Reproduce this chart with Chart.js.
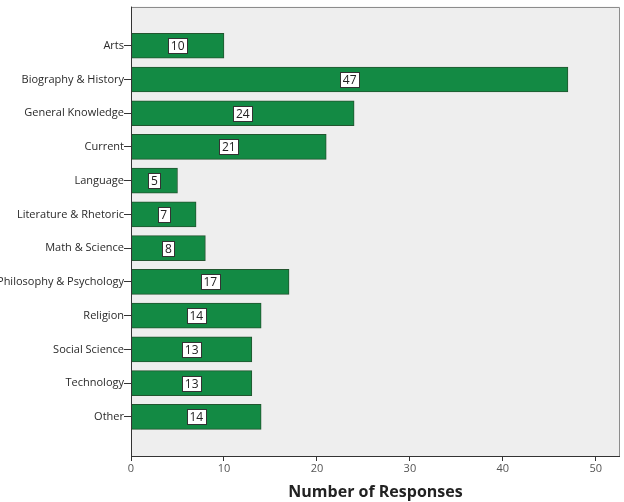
<!DOCTYPE html>
<html>
<head>
<meta charset="utf-8">
<script src="https://cdn.jsdelivr.net/npm/chart.js@4"></script>
<style>
  html, body { margin: 0; padding: 0; background: #ffffff; }
  #wrap { width: 624px; height: 502px; }
</style>
</head>
<body>
<div id="wrap"><canvas id="responsesChart" width="624" height="502"></canvas></div>
<script>
const categories = ['Arts', 'Biography & History', 'General Knowledge', 'Current', 'Language',
  'Literature & Rhetoric', 'Math & Science', 'Philosophy & Psychology', 'Religion',
  'Social Science', 'Technology', 'Other'];
const responses = [10, 47, 24, 21, 5, 7, 8, 17, 14, 13, 13, 14];
const xTicks = [0, 10, 20, 30, 40, 50];

const fontFamily = '"Open Sans", "Liberation Sans", sans-serif';

// gray plot frame behind the bars
const plotFrame = {
  id: 'plotFrame',
  beforeDraw(chart) {
    const { ctx, chartArea: a } = chart;
    ctx.save();
    ctx.fillStyle = '#eeeeee';
    ctx.fillRect(a.left, a.top, a.right - a.left, a.bottom - a.top);
    ctx.restore();
  },
  afterDraw(chart) {
    const { ctx, chartArea: a } = chart;
    ctx.save();
    ctx.lineWidth = 1;
    ctx.strokeStyle = '#8c8c8c';
    ctx.beginPath();
    ctx.moveTo(a.left, Math.round(a.top) + 0.5);
    ctx.lineTo(Math.round(a.right) - 0.5, Math.round(a.top) + 0.5);
    ctx.lineTo(Math.round(a.right) - 0.5, Math.round(a.bottom));
    ctx.stroke();
    ctx.beginPath();
    ctx.strokeStyle = '#333333';
    ctx.moveTo(Math.round(a.left) + 0.5, a.top);
    ctx.lineTo(Math.round(a.left) + 0.5, Math.round(a.bottom) + 0.5);
    ctx.lineTo(a.right, Math.round(a.bottom) + 0.5);
    ctx.stroke();
    ctx.restore();
  }
};

// white value boxes in the middle of each bar
const valueBoxes = {
  id: 'valueBoxes',
  afterDatasetsDraw(chart) {
    const { ctx } = chart;
    const meta = chart.getDatasetMeta(0);
    ctx.save();
    ctx.font = '12px ' + fontFamily;
    ctx.textAlign = 'center';
    ctx.textBaseline = 'middle';
    meta.data.forEach((bar, i) => {
      const txt = String(responses[i]);
      const cx = (bar.x + bar.base) / 2;
      const cy = bar.y;
      const w = Math.round(ctx.measureText(txt).width + 5);
      const h = 15;
      const bx = Math.round(cx - w / 2) + 0.5;
      const by = Math.round(cy - h / 2) + 0.5;
      ctx.fillStyle = '#ffffff';
      ctx.fillRect(bx, by, w, h);
      ctx.strokeStyle = '#333333';
      ctx.lineWidth = 1;
      ctx.strokeRect(bx, by, w, h);
      ctx.fillStyle = '#222222';
      ctx.fillText(txt, cx, cy + 1);
    });
    ctx.restore();
  }
};

const ctx = document.getElementById('responsesChart').getContext('2d');
new Chart(ctx, {
  type: 'bar',
  data: {
    datasets: [{
      data: responses.map((v, i) => ({ x: v, y: i })),
      backgroundColor: '#138a44',
      borderColor: '#22552f',
      borderWidth: 1,
      borderSkipped: false,
      barThickness: 25
    }]
  },
  options: {
    indexAxis: 'y',
    responsive: false,
    animation: false,
    layout: { padding: { top: 5, right: 4, left: 0, bottom: 0 } },
    plugins: { legend: { display: false }, tooltip: { enabled: false } },
    scales: {
      x: {
        type: 'linear',
        min: 0,
        max: 52.6,
        afterBuildTicks: (scale) => { scale.ticks = xTicks.map(v => ({ value: v })); },
        afterFit: (scale) => { scale.height = 46; },
        grid: { drawOnChartArea: false, drawTicks: true, tickLength: 5, color: '#333333' },
        border: { display: false },
        ticks: { color: '#555555', font: { family: fontFamily, size: 11 }, padding: 1, maxRotation: 0 },
        title: {
          display: true,
          text: 'Number of Responses',
          color: '#222222',
          font: { family: fontFamily, size: 16, weight: 'bold' },
          padding: { top: 4, bottom: 0 }
        }
      },
      y: {
        type: 'linear',
        reverse: true,
        offset: false,
        min: -1.16,
        max: 12.16,
        afterBuildTicks: (scale) => { scale.ticks = categories.map((c, i) => ({ value: i })); },
        afterFit: (scale) => { scale.width = 131; },
        grid: { offset: false, drawOnChartArea: false, drawTicks: true, tickLength: 7, color: '#333333' },
        border: { display: false },
        ticks: {
          color: '#2a2a2a',
          font: { family: fontFamily, size: 11 },
          padding: 0,
          callback: (v) => categories[v]
        }
      }
    }
  },
  plugins: [plotFrame, valueBoxes]
});
</script>
</body>
</html>
